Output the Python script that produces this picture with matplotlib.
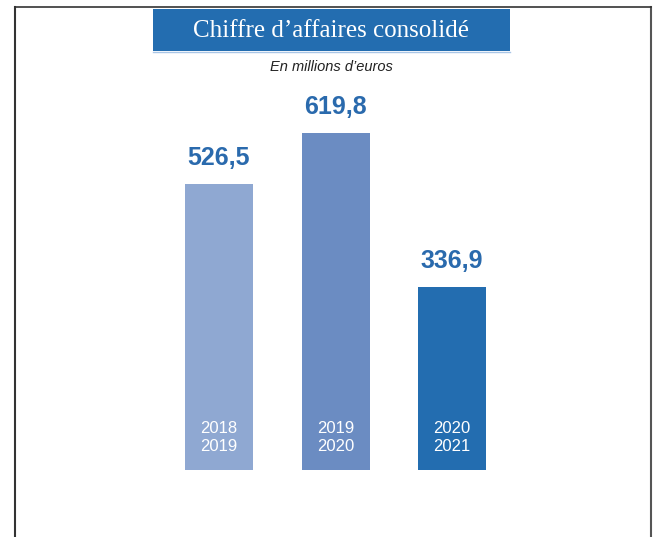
import matplotlib.pyplot as plt
from matplotlib.patches import Rectangle
from matplotlib.lines import Line2D

periods = ['2018\n2019', '2019\n2020', '2020\n2021']
revenue = [526.5, 619.8, 336.9]
value_labels = ['526,5', '619,8', '336,9']
bar_colors = ['#8fa8d2', '#6b8cc2', '#236db0']

W, H = 657, 537
fig = plt.figure(figsize=(W / 100, H / 100), dpi=100)

# bars: baseline at y=470px, 0.5435 px per unit, bar centres 116.5 px apart
ax = fig.add_axes([0, (H - 470) / H, 1, 463 / H])
ax.set_xlim(-219 / 116.5, (W - 219) / 116.5)
ax.set_ylim(0, 463 / 0.5435)
ax.axis('off')
x = range(len(revenue))
ax.bar(x, revenue, width=68 / 116.5, color=bar_colors)

sans = ['Liberation Sans', 'DejaVu Sans']
for i, v in enumerate(revenue):
    ax.annotate(value_labels[i], (i, v), xytext=(0, 10), textcoords='offset points',
                ha='center', va='bottom', fontsize=18, fontweight='bold',
                color='#2a6aad', family=sans)
    ax.text(i, 60, periods[i], ha='center', va='center', fontsize=12,
            color='white', family=sans, linespacing=1.3)

# frame
fig.add_artist(Line2D([15 / W, 15 / W], [0, 1 - 7 / H], color='#333333', lw=1.5))
fig.add_artist(Line2D([651 / W, 651 / W], [0, 1 - 7 / H], color='#555555', lw=1.5))
fig.add_artist(Line2D([15 / W, 651 / W], [1 - 7 / H, 1 - 7 / H], color='#333333', lw=1.2))

# title box
fig.add_artist(Rectangle((153 / W, 1 - 51 / H), 357 / W, 42 / H, color='#236db0', lw=0))
fig.add_artist(Line2D([153 / W, 510 / W], [1 - 51.5 / H, 1 - 51.5 / H], color='#a9c6e6', lw=1))
fig.text(331 / W, 1 - 31 / H, 'Chiffre d\u2019affaires consolidé', ha='center', va='center',
         fontsize=18, color='white', family='Liberation Serif')
fig.text(331 / W, 1 - 67 / H, 'En millions d\u2019euros', ha='center', va='center',
         fontsize=10.5, style='italic', color='#222222', family=sans)

fig.savefig('out.png', dpi=100)
